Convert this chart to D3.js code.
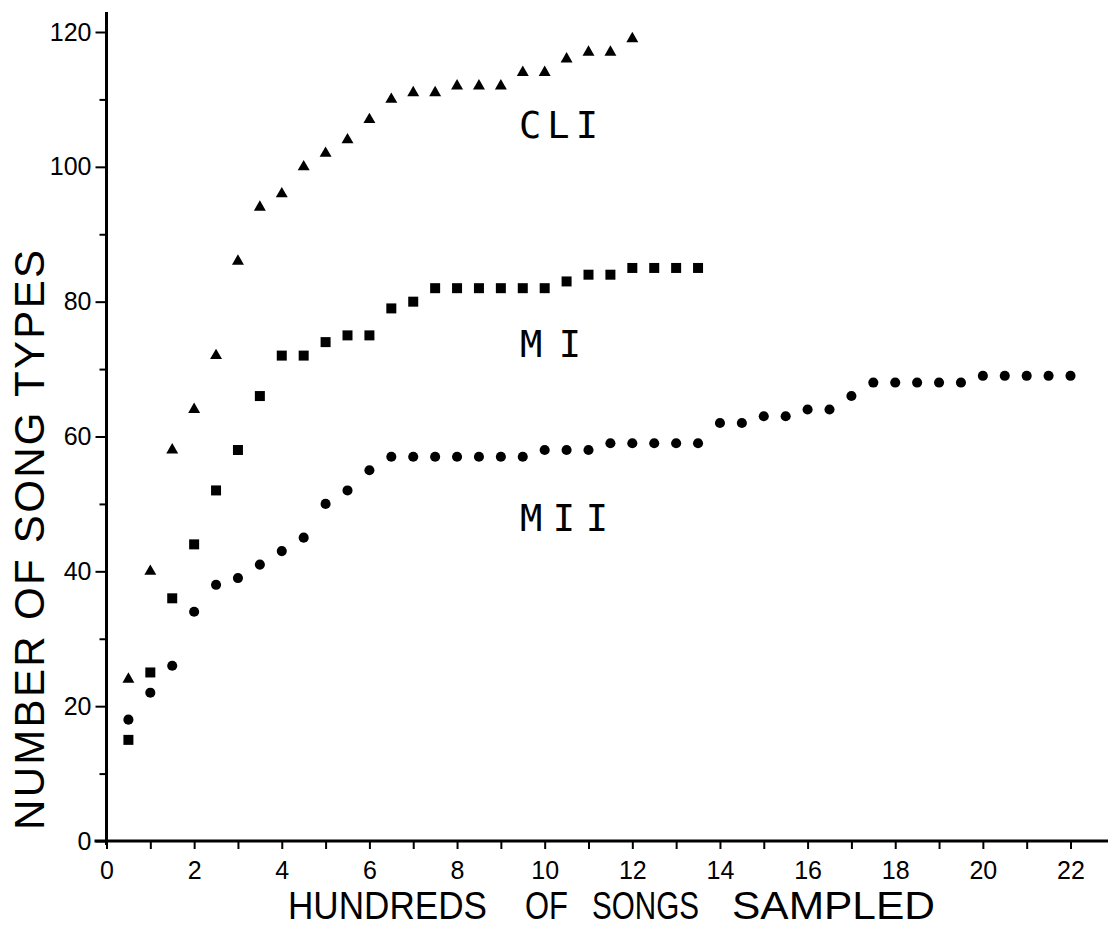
<!DOCTYPE html>
<html>
<head>
<meta charset="utf-8">
<script src="https://cdn.jsdelivr.net/npm/d3@7"></script>
<style>
  body { margin: 0; background: #fff; }
  svg { display: block; }
  .tick text { font-family: "Liberation Sans", Arial, sans-serif; fill: #000; }
</style>
</head>
<body>
<svg id="chart" width="1108" height="929"></svg>
<script>
// hundreds of songs sampled, one list per population
const samplesCLI = [0.5, 1, 1.5, 2, 2.5, 3, 3.5, 4, 4.5, 5, 5.5, 6, 6.5, 7, 7.5, 8, 8.5, 9, 9.5, 10, 10.5, 11, 11.5, 12];
const typesCLI = [24, 40, 58, 64, 72, 86, 94, 96, 100, 102, 104, 107, 110, 111, 111, 112, 112, 112, 114, 114, 116, 117, 117, 119];

const samplesMI = [0.5, 1, 1.5, 2, 2.5, 3, 3.5, 4, 4.5, 5, 5.5, 6, 6.5, 7, 7.5, 8, 8.5, 9, 9.5, 10, 10.5, 11, 11.5, 12, 12.5, 13, 13.5];
const typesMI = [15, 25, 36, 44, 52, 58, 66, 72, 72, 74, 75, 75, 79, 80, 82, 82, 82, 82, 82, 82, 83, 84, 84, 85, 85, 85, 85];

const samplesMII = [0.5, 1, 1.5, 2, 2.5, 3, 3.5, 4, 4.5, 5, 5.5, 6, 6.5, 7, 7.5, 8, 8.5, 9, 9.5, 10, 10.5, 11,
  11.5, 12, 12.5, 13, 13.5, 14, 14.5, 15, 15.5, 16, 16.5, 17, 17.5, 18, 18.5, 19, 19.5, 20, 20.5, 21, 21.5, 22];
const typesMII = [18, 22, 26, 34, 38, 39, 41, 43, 45, 50, 52, 55, 57, 57, 57, 57, 57, 57, 57, 58, 58, 58,
  59, 59, 59, 59, 59, 62, 62, 63, 63, 64, 64, 66, 68, 68, 68, 68, 68, 69, 69, 69, 69, 69];

const xTicks = [0, 1, 2, 3, 4, 5, 6, 7, 8, 9, 10, 11, 12, 13, 14, 15, 16, 17, 18, 19, 20, 21, 22];
const yMajor = [0, 20, 40, 60, 80, 100, 120];
const yMinor = [10, 30, 50, 70, 90, 110];

const svg = d3.select("#chart");

const x = d3.scaleLinear().domain([0, 22]).range([106.5, 1070.5]);
const y = d3.scaleLinear().domain([0, 120]).range([841, 32]);

// x axis
const xAxis = svg.append("g")
  .attr("transform", `translate(0,${y(0)})`)
  .call(d3.axisBottom(x)
    .tickValues(xTicks)
    .tickSize(8)
    .tickPadding(12)
    .tickFormat(d => d % 2 === 0 ? d : ""));
xAxis.select(".domain").remove();
xAxis.selectAll(".tick line").attr("stroke", "#000").attr("stroke-width", 2);
xAxis.selectAll(".tick text").attr("font-size", 25);

// y axis, labelled ticks and short unlabelled ones between
const yAxis = svg.append("g")
  .attr("transform", `translate(${x(0)},0)`)
  .call(d3.axisLeft(y)
    .tickValues(yMajor)
    .tickSize(11)
    .tickPadding(4));
yAxis.select(".domain").remove();
yAxis.selectAll(".tick line").attr("stroke", "#000").attr("stroke-width", 2);
yAxis.selectAll(".tick text").attr("font-size", 25);

const yAxisMinor = svg.append("g")
  .attr("transform", `translate(${x(0)},0)`)
  .call(d3.axisLeft(y)
    .tickValues(yMinor)
    .tickSize(7)
    .tickFormat(""));
yAxisMinor.select(".domain").remove();
yAxisMinor.selectAll(".tick line").attr("stroke", "#000").attr("stroke-width", 2);

// axis lines, the x one runs off to the page edge
svg.append("line")
  .attr("x1", x(0) - 12).attr("x2", 1108)
  .attr("y1", y(0)).attr("y2", y(0))
  .attr("stroke", "#000").attr("stroke-width", 3);
svg.append("line")
  .attr("x1", x(0)).attr("x2", x(0))
  .attr("y1", 12).attr("y2", y(0) + 4)
  .attr("stroke", "#000").attr("stroke-width", 3);

// axis titles; the x one is set word by word, as widely spaced as the original
const xTitle = svg.append("g").attr("class", "x-title");
[["HUNDREDS", 288, 199], ["OF", 525, 43], ["SONGS", 592, 107], ["SAMPLED", 732, 203]]
  .forEach(([word, left, width]) => {
    xTitle.append("text")
      .attr("x", left)
      .attr("y", 919)
      .attr("textLength", width)
      .attr("lengthAdjust", "spacingAndGlyphs")
      .attr("font-family", "Liberation Sans, Arial, sans-serif")
      .attr("font-size", 38)
      .text(word);
  });

svg.append("text")
  .attr("transform", "translate(44,830) rotate(-90)")
  .attr("textLength", 580)
  .attr("lengthAdjust", "spacing")
  .attr("font-family", "Liberation Sans, Arial, sans-serif")
  .attr("font-size", 42)
  .text("NUMBER OF SONG TYPES");

// points
const plotSeries = (samples, values, shape, size) => {
  svg.append("g")
    .selectAll("path")
    .data(samples.map((s, i) => [s, values[i]]))
    .join("path")
    .attr("transform", d => `translate(${x(d[0])},${y(d[1])})`)
    .attr("d", d3.symbol().type(shape).size(size))
    .attr("fill", "#000");
};

plotSeries(samplesCLI, typesCLI, d3.symbolTriangle, 62);
plotSeries(samplesMI, typesMI, d3.symbolSquare, 100);
plotSeries(samplesMII, typesMII, d3.symbolCircle, 80);

// population labels
const seriesLabel = (text, left, base, width) => {
  svg.append("text")
    .attr("x", left)
    .attr("y", base)
    .attr("textLength", width)
    .attr("lengthAdjust", "spacing")
    .attr("font-family", "DejaVu Sans Mono, monospace")
    .attr("font-size", 37)
    .text(text);
};

seriesLabel("CLI", 519, 138, 79);
seriesLabel("MI", 520, 357, 61);
seriesLabel("MII", 520, 531, 88);
</script>
</body>
</html>
